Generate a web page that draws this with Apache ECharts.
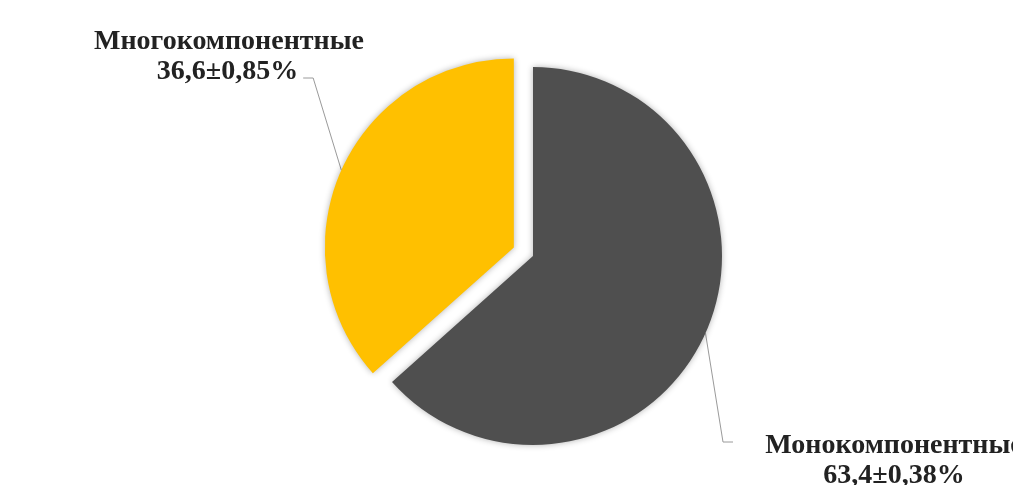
<!DOCTYPE html>
<html>
<head>
<meta charset="utf-8">
<script src="https://cdn.jsdelivr.net/npm/echarts@6/dist/echarts.min.js"></script>
<style>html,body{margin:0;padding:0;background:#fff;}#c{width:1013px;height:485px;}</style>
</head>
<body>
<div id="c"></div>
<script>
var categories = ['Монокомпонентные', 'Многокомпонентные'];
var values = [63.4, 36.6];
var errors = ['0,38', '0,85'];
var colors = ['#4F4F4F', '#FFC000'];
var explode = [0, 21];

var CENTER = [533, 256];
var RADIUS = 189;
var total = values.reduce(function (a, b) { return a + b; }, 0);

var FONT = {
  fontFamily: '"Liberation Serif", "Times New Roman", serif',
  fontWeight: 'bold',
  fontSize: 28,
  lineHeight: 30,
  color: '#222222',
  align: 'center'
};
function fontWith(extra) {
  var o = {};
  for (var k in FONT) o[k] = FONT[k];
  for (var k2 in extra) if (extra[k2] != null) o[k2] = extra[k2];
  return o;
}
function valueText(i) {
  return String(values[i]).replace('.', ',') + '±' + errors[i] + '%';
}

// label placement per slice; splitName: name drawn as separate label above the value line
var labelBoxes = [
  {x: 879, y: 393, padding: [38, 0, 0, 30], width: 262, splitName: false},
  {x: 230, y: 57, padding: [0, 5, 12, 0], width: null, splitName: true, nameX: 229, nameY: 27}
];

// slice centres (exploded slice offset along its mid-angle)
var centers = [];
var acc = 0;
categories.forEach(function (c, i) {
  var startFrac = acc / total;
  acc += values[i];
  var midFrac = (startFrac + acc / total) / 2;
  var ang = Math.PI / 2 - midFrac * 2 * Math.PI; // clockwise from top
  centers.push([CENTER[0] + Math.cos(ang) * explode[i], CENTER[1] - Math.sin(ang) * explode[i]]);
});

function pieData(i, visible) {
  return categories.map(function (cc, j) {
    var on = j === i;
    return {
      name: cc,
      value: values[j],
      itemStyle: on && visible
        ? {color: colors[j], shadowBlur: 6, shadowColor: 'rgba(0,0,0,0.3)'}
        : {color: 'rgba(0,0,0,0)'},
      label: {show: on},
      labelLine: {show: on && visible}
    };
  });
}

var series = [];
categories.forEach(function (c, i) {
  var b = labelBoxes[i];
  series.push({
    type: 'pie',
    center: centers[i],
    radius: RADIUS,
    startAngle: 90,
    clockwise: true,
    silent: true,
    emphasis: {disabled: true},
    data: pieData(i, true),
    label: fontWith({
      position: 'outside',
      overflow: 'none',
      padding: b.padding,
      formatter: function (p) {
        return b.splitName ? valueText(p.dataIndex) : categories[p.dataIndex] + '\n' + valueText(p.dataIndex);
      }
    }),
    labelLine: {
      length: 20,
      length2: 10,
      minTurnAngle: 60,
      lineStyle: {color: '#9a9a9a', width: 1}
    },
    labelLayout: function () {
      var o = {x: b.x, y: b.y, align: 'center', verticalAlign: 'top'};
      if (b.width != null) o.width = b.width;
      return o;
    }
  });
  if (b.splitName) {
    series.push({
      type: 'pie',
      center: centers[i],
      radius: RADIUS,
      startAngle: 90,
      clockwise: true,
      silent: true,
      emphasis: {disabled: true},
      z: 1,
      data: pieData(i, false),
      label: fontWith({
        position: 'outside',
        overflow: 'none',
        formatter: function (p) { return categories[p.dataIndex]; }
      }),
      labelLine: {show: false},
      labelLayout: function () {
        return {x: b.nameX, y: b.nameY, align: 'center', verticalAlign: 'top'};
      }
    });
  }
});

var chart = echarts.init(document.getElementById('c'), null, {renderer: 'canvas'});
chart.setOption({
  animation: false,
  backgroundColor: '#fff',
  series: series
});
</script>
</body>
</html>
